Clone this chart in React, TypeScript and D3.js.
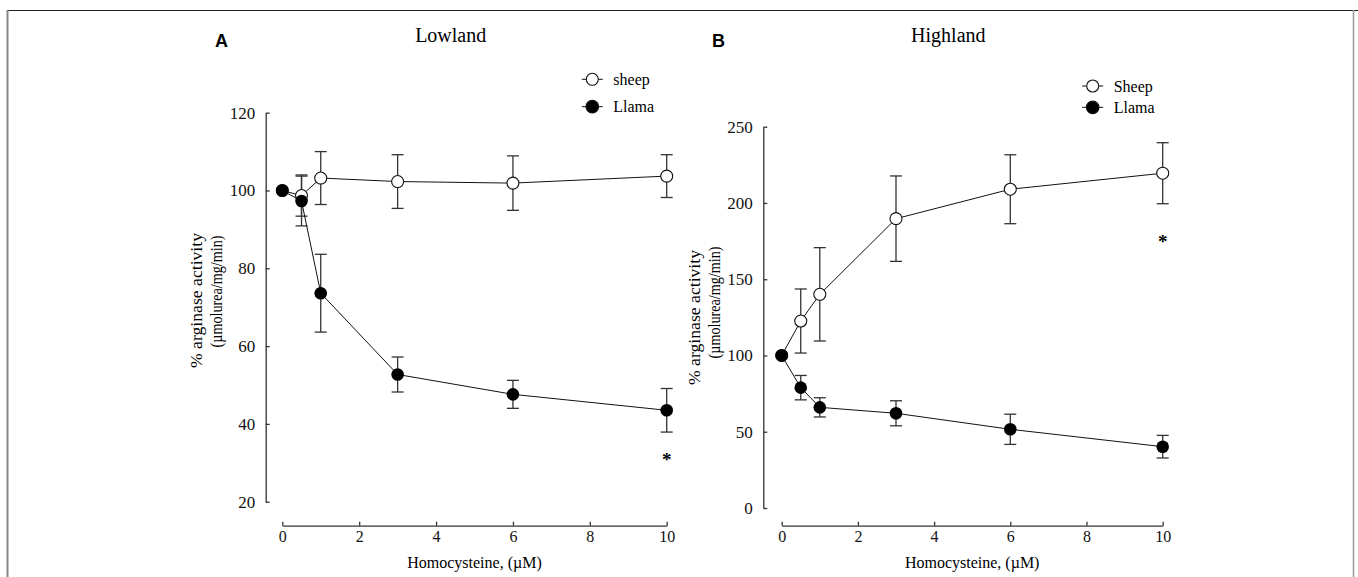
import { useEffect, useRef } from "react";
import * as d3 from "d3";

// doses on the x axis (µM)
const doses = [0, 0.5, 1, 3, 6, 10];

// Lowland panel
const lowSheep = [100, 98.7, 103.2, 102.3, 101.9, 103.7];
const lowSheepErr = [0, 5.3, 6.8, 6.9, 7.0, 5.5];
const lowLlama = [100, 97.3, 73.6, 52.7, 47.6, 43.5];
const lowLlamaErr = [0, 6.4, 10, 4.5, 3.6, 5.6];

// Highland panel
const highSheep = [100, 122.6, 140.1, 189.7, 209, 219.5];
const highSheepErr = [0, 21, 30.6, 28, 22.6, 20];
const highLlama = [100, 78.9, 66, 62.1, 51.6, 40.2];
const highLlamaErr = [0, 8, 6.3, 8.2, 9.9, 7.4];

const xTicks = [0, 2, 4, 6, 8, 10];
const lowYTicks = [20, 40, 60, 80, 100, 120];
const highYTicks = [0, 50, 100, 150, 200, 250];

const W = 1358;
const H = 577;
const serif = "'Liberation Serif', 'Times New Roman', serif";
const sans = "'Liberation Sans', Arial, sans-serif";

type Panel = {
  letter: string;
  title: string;
  axisX: number;
  xRange: [number, number];
  yDomain: [number, number];
  yRange: [number, number];
  yTicks: number[];
  sheep: number[];
  sheepErr: number[];
  llama: number[];
  llamaErr: number[];
  sheepName: string;
  xAxisY: number;
  titleX: number;
  letterX: number;
  legendX: number;
  legendY: [number, number];
  labelX: [number, number];
  labelY: [number, number];
  starY: number;
};

const panels: Panel[] = [
  {
    letter: "A",
    title: "Lowland",
    axisX: 265.7,
    xRange: [282.3, 666.7],
    yDomain: [20, 120],
    yRange: [501.7, 112.7],
    yTicks: lowYTicks,
    sheep: lowSheep,
    sheepErr: lowSheepErr,
    llama: lowLlama,
    llamaErr: lowLlamaErr,
    sheepName: "sheep",
    xAxisY: 525.7,
    titleX: 450.7,
    letterX: 215,
    legendX: 592.3,
    legendY: [79.3, 106.7],
    labelX: [196.7, 216.7],
    labelY: [300.5, 291.5],
    starY: 466,
  },
  {
    letter: "B",
    title: "Highland",
    axisX: 763.3,
    xRange: [781.7, 1162.7],
    yDomain: [0, 250],
    yRange: [508, 126.7],
    yTicks: highYTicks,
    sheep: highSheep,
    sheepErr: highSheepErr,
    llama: highLlama,
    llamaErr: highLlamaErr,
    sheepName: "Sheep",
    xAxisY: 525.7,
    titleX: 948.3,
    letterX: 712,
    legendX: 1092.7,
    legendY: [86, 107.3],
    labelX: [695, 715],
    labelY: [317.5, 302.5],
    starY: 248,
  },
];

const drawPanel = (svg: d3.Selection<SVGSVGElement, unknown, null, undefined>, p: Panel) => {
  const x = d3.scaleLinear().domain([0, 10]).range(p.xRange);
  const y = d3.scaleLinear().domain(p.yDomain).range(p.yRange);
  const g = svg.append("g");

  // y axis, ticks pointing inward
  const yAxis = g.append("g")
    .attr("transform", `translate(${p.axisX},0)`)
    .call(d3.axisLeft(y).tickValues(p.yTicks).tickSizeInner(-4).tickSizeOuter(0).tickPadding(10.5));

  // x axis drawn separately below the plot
  const xAxis = g.append("g")
    .attr("transform", `translate(0,${p.xAxisY})`)
    .call(d3.axisBottom(x).tickValues(xTicks).tickSizeInner(-4).tickSizeOuter(0).tickPadding(5));

  [yAxis, xAxis].forEach(a => {
    a.selectAll("path, line").attr("stroke", "#333").attr("stroke-width", 1.3);
    a.selectAll("text").attr("fill", "#111").attr("font-family", serif);
  });
  yAxis.selectAll("text").attr("font-size", 17);
  xAxis.selectAll("text").attr("font-size", 16);

  // error bars
  const series = [
    { vals: p.sheep, errs: p.sheepErr },
    { vals: p.llama, errs: p.llamaErr },
  ];
  series.forEach(s => {
    const bars = g.append("g").attr("stroke", "#333").attr("stroke-width", 1.3);
    doses.forEach((d, i) => {
      if (!s.errs[i]) return;
      const cx = x(d);
      const top = y(s.vals[i] + s.errs[i]);
      const bot = y(s.vals[i] - s.errs[i]);
      bars.append("line").attr("x1", cx).attr("x2", cx).attr("y1", top).attr("y2", bot);
      bars.append("line").attr("x1", cx - 6).attr("x2", cx + 6).attr("y1", top).attr("y2", top);
      bars.append("line").attr("x1", cx - 6).attr("x2", cx + 6).attr("y1", bot).attr("y2", bot);
    });
  });

  const line = d3.line<number>()
    .x((_, i) => x(doses[i]))
    .y(v => y(v));

  // sheep: open circles
  g.append("path").datum(p.sheep).attr("d", line).attr("fill", "none").attr("stroke", "#111").attr("stroke-width", 1);
  g.append("g").selectAll("circle").data(p.sheep).join("circle")
    .attr("cx", (_, i) => x(doses[i]))
    .attr("cy", v => y(v))
    .attr("r", 6)
    .attr("fill", "white")
    .attr("stroke", "#111")
    .attr("stroke-width", 1.1);

  // llama: filled circles on top
  g.append("path").datum(p.llama).attr("d", line).attr("fill", "none").attr("stroke", "#111").attr("stroke-width", 1);
  g.append("g").selectAll("circle").data(p.llama).join("circle")
    .attr("cx", (_, i) => x(doses[i]))
    .attr("cy", v => y(v))
    .attr("r", 6.3)
    .attr("fill", "#000");

  // significance star
  g.append("text")
    .attr("x", x(10))
    .attr("y", p.starY)
    .attr("text-anchor", "middle")
    .attr("font-family", serif)
    .attr("font-weight", "bold")
    .attr("font-size", 19)
    .text("*");

  // axis labels
  g.append("text")
    .attr("x", (p.xRange[0] + p.xRange[1]) / 2)
    .attr("y", 567.5)
    .attr("text-anchor", "middle")
    .attr("font-family", serif)
    .attr("font-size", 16)
    .text("Homocysteine, (\u00b5M)");

  const yLabels = ["% arginase activity", "(\u00b5molurea/mg/min)"];
  const yLens = [135, 112];
  yLabels.forEach((t, i) => {
    g.append("text")
      .attr("transform", `translate(${p.labelX[i] + 5},${p.labelY[i]}) rotate(-90)`)
      .attr("text-anchor", "middle")
      .attr("font-family", serif)
      .attr("font-size", 16)
      .attr("textLength", yLens[i])
      .attr("lengthAdjust", "spacingAndGlyphs")
      .text(t);
  });

  // title and panel letter
  g.append("text")
    .attr("x", p.titleX)
    .attr("y", 42)
    .attr("text-anchor", "middle")
    .attr("font-family", serif)
    .attr("font-size", 20)
    .text(p.title);
  g.append("text")
    .attr("x", p.letterX)
    .attr("y", 46.5)
    .attr("font-family", sans)
    .attr("font-weight", "bold")
    .attr("font-size", 18)
    .text(p.letter);

  // legend
  const legend = [
    { name: p.sheepName, filled: false },
    { name: "Llama", filled: true },
  ];
  legend.forEach((l, i) => {
    const ly = p.legendY[i];
    const lg = g.append("g");
    lg.append("line")
      .attr("x1", p.legendX - 10.5).attr("x2", p.legendX + 10.5)
      .attr("y1", ly).attr("y2", ly)
      .attr("stroke", "#111").attr("stroke-width", 1);
    lg.append("circle")
      .attr("cx", p.legendX).attr("cy", ly)
      .attr("r", l.filled ? 6.3 : 6)
      .attr("fill", l.filled ? "#000" : "white")
      .attr("stroke", "#111").attr("stroke-width", 1.1);
    lg.append("text")
      .attr("x", p.legendX + 21)
      .attr("y", ly + 5.5)
      .attr("font-family", serif)
      .attr("font-size", 16)
      .text(l.name);
  });
};

export default function App() {
  const ref = useRef<SVGSVGElement>(null);

  useEffect(() => {
    const svg = d3.select(ref.current);
    svg.selectAll("*").remove();

    // frame around the figure
    svg.append("line").attr("x1", 7).attr("x2", W).attr("y1", 10.5).attr("y2", 10.5)
      .attr("stroke", "#222").attr("stroke-width", 1.2);
    svg.append("line").attr("x1", 7.5).attr("x2", 7.5).attr("y1", 10).attr("y2", H)
      .attr("stroke", "#888").attr("stroke-width", 2);
    svg.append("line").attr("x1", 1353.5).attr("x2", 1353.5).attr("y1", 10).attr("y2", H)
      .attr("stroke", "#999").attr("stroke-width", 1.5);

    panels.forEach(p => drawPanel(svg as any, p));
  }, []);

  return (
    <svg
      ref={ref}
      width={W}
      height={H}
      style={{ position: "absolute", left: 0, top: 0, background: "white" }}
    />
  );
}
